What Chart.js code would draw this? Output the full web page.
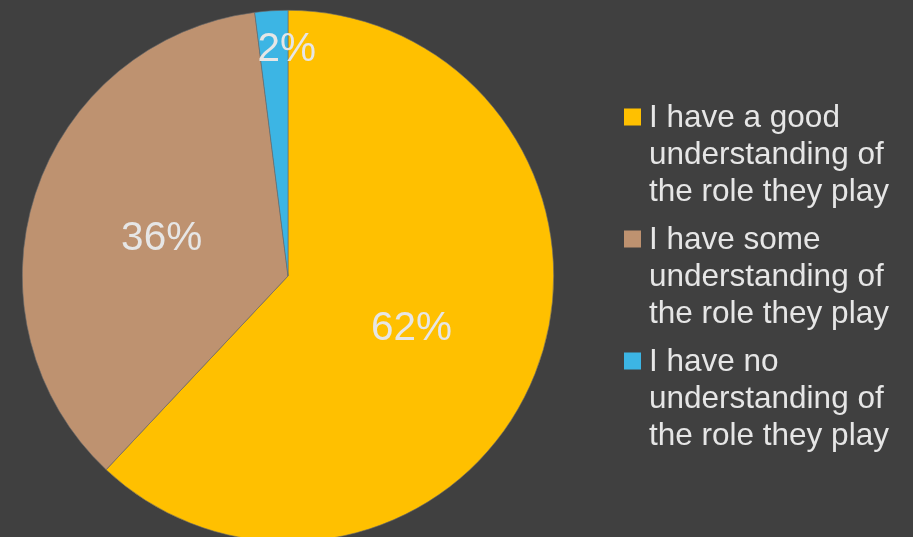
<!DOCTYPE html>
<html>
<head>
<meta charset="utf-8">
<script src="https://cdn.jsdelivr.net/npm/chart.js@4/dist/chart.umd.min.js"></script>
<style>
    html, body { margin: 0; padding: 0; background: #404040; overflow: hidden; }
    #wrap { position: relative; width: 913px; height: 552px; }
</style>
</head>
<body>
<div id="wrap"><canvas id="pieChart"></canvas></div>
<script>
// Survey answers, pie with percentage labels and a wrapped legend on the right.
var categories = [
    ['I have a good', 'understanding of', 'the role they play'],
    ['I have some', 'understanding of', 'the role they play'],
    ['I have no', 'understanding of', 'the role they play']
];
var shares = [62, 36, 2];
var valueLabels = ['62%', '36%', '2%'];

var palette = {
    bg:     '#404040',
    yellow: '#FFC000',
    brown:  '#BE9270',
    blue:   '#3CB5E4',
    text:   '#E6E6E6'
};
var font = "'Liberation Sans', Arial, sans-serif";

// percentage text at each slice's centroid (small slices pushed toward the rim)
var sliceLabels = {
    id: 'sliceLabels',
    afterDatasetsDraw: function (chart) {
        var ctx = chart.ctx;
        var meta = chart.getDatasetMeta(0);
        ctx.save();
        ctx.fillStyle = palette.text;
        ctx.font = '40.5px ' + font;
        ctx.textAlign = 'center';
        ctx.textBaseline = 'middle';
        meta.data.forEach(function (arc, i) {
            var p = arc.getProps(['x', 'y', 'startAngle', 'endAngle', 'outerRadius'], true);
            var mid = (p.startAngle + p.endAngle) / 2;
            var r = shares[i] < 5 ? p.outerRadius * 0.86 : p.outerRadius * 0.5;
            if (shares[i] < 5) mid = p.endAngle - 0.005;
            ctx.fillText(valueLabels[i], p.x + Math.cos(mid) * r, p.y + Math.sin(mid) * r + (shares[i] < 5 ? 2 : 4));
        });
        ctx.restore();
    }
};

// legend with multi-line entries
var wrappedLegend = {
    id: 'wrappedLegend',
    afterDraw: function (chart) {
        var ctx = chart.ctx;
        var colors = chart.data.datasets[0].backgroundColor;
        var x = 624, y = 117, lineH = 37, groupGap = 11, box = 17;
        ctx.save();
        ctx.font = '31.5px ' + font;
        ctx.textBaseline = 'middle';
        ctx.textAlign = 'left';
        categories.forEach(function (lines, i) {
            ctx.fillStyle = colors[i];
            ctx.fillRect(x, y - box / 2, box, box);
            ctx.fillStyle = palette.text;
            lines.forEach(function (line, j) {
                ctx.fillText(line, x + 25, y + j * lineH + 1);
            });
            y += lines.length * lineH + groupGap;
        });
        ctx.restore();
    }
};

new Chart(document.getElementById('pieChart'), {
    type: 'pie',
    data: {
        labels: categories.map(function (c) { return c.join(' '); }),
        datasets: [{
            data: shares,
            backgroundColor: [palette.yellow, palette.brown, palette.blue],
            borderColor: '#6a6a6a',
            borderWidth: 0.6
        }]
    },
    options: {
        responsive: true,
        maintainAspectRatio: false,
        animation: false,
        layout: { padding: { left: 22, right: 359, top: 10, bottom: 10 } },
        plugins: {
            legend: { display: false },
            tooltip: { enabled: false }
        }
    },
    plugins: [sliceLabels, wrappedLegend]
});
</script>
</body>
</html>
